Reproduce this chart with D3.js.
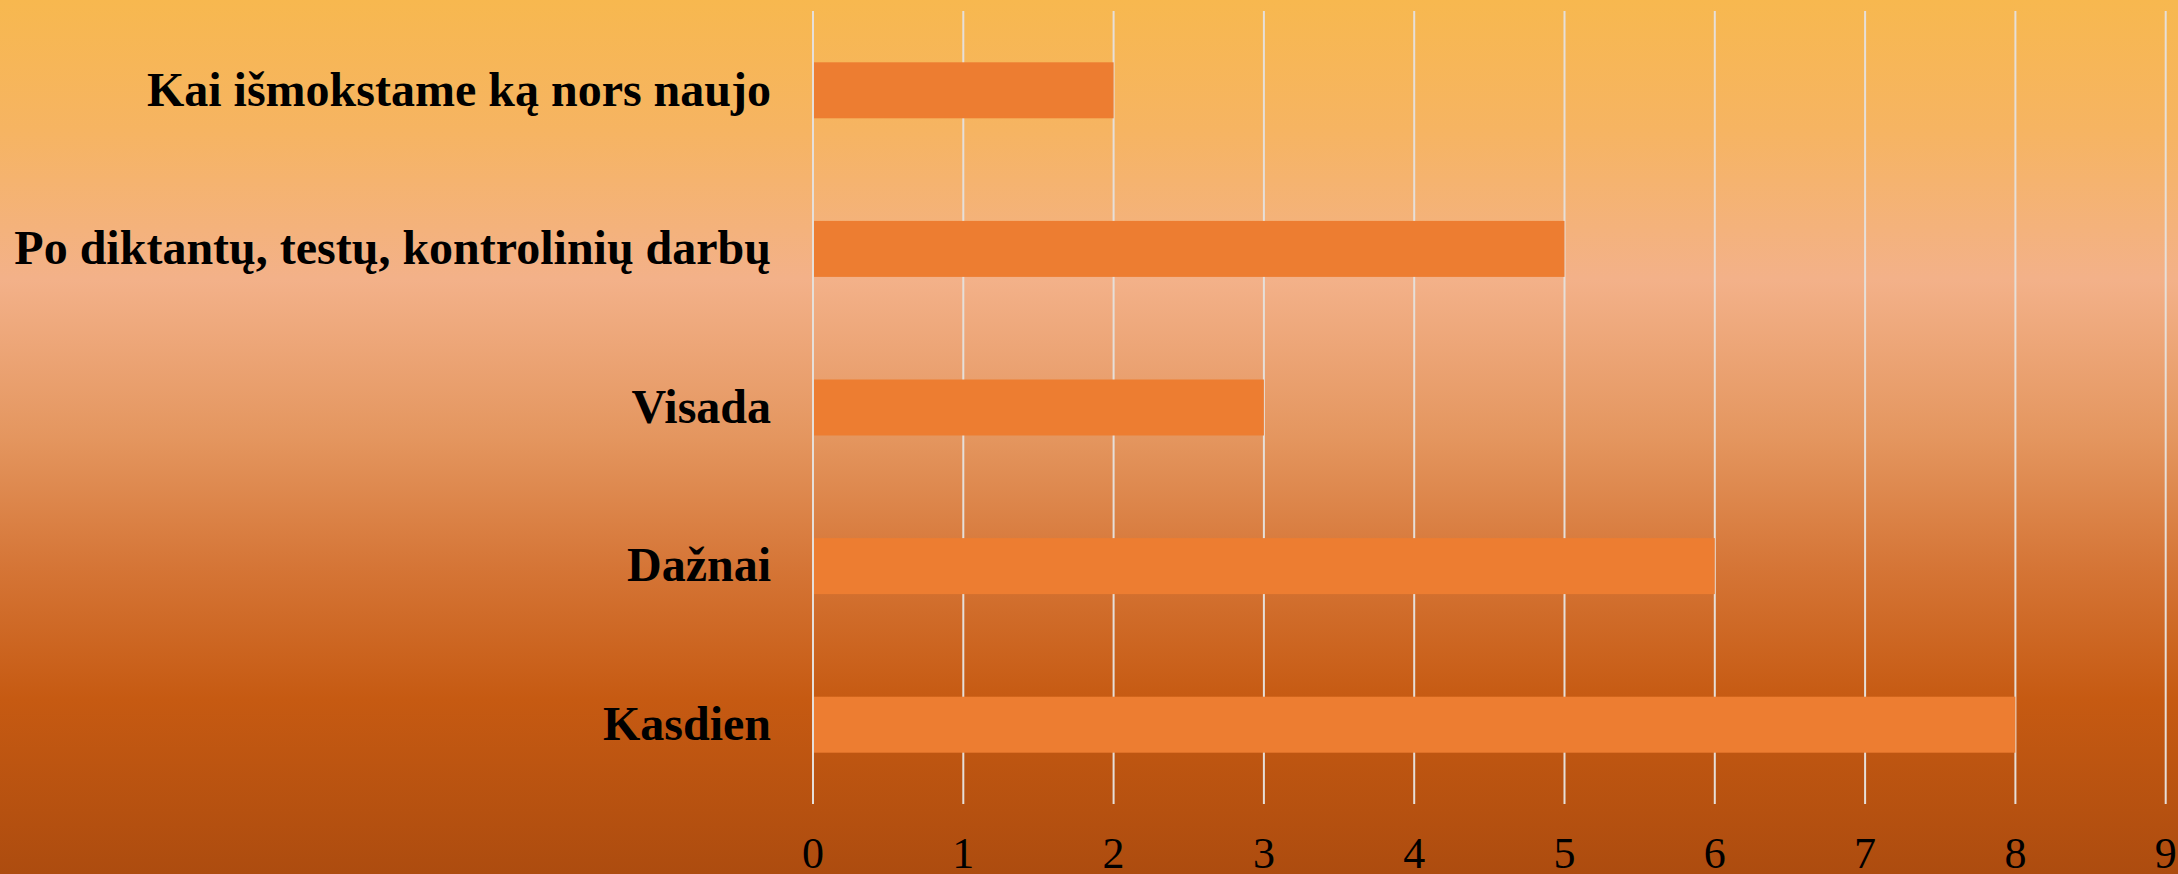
<!DOCTYPE html>
<html>
<head>
<meta charset="utf-8">
<script src="https://cdn.jsdelivr.net/npm/d3@7"></script>
<style>
  html, body { margin: 0; padding: 0; overflow: hidden; }
  svg { display: block; }
</style>
</head>
<body>
<div id="chart"></div>
<script>
// data, top to bottom as drawn
const categories = ["Kai išmokstame ką nors naujo", "Po diktantų, testų, kontrolinių darbų", "Visada", "Dažnai", "Kasdien"];
const values = [2, 5, 3, 6, 8];
const xTicks = [0, 1, 2, 3, 4, 5, 6, 7, 8, 9];

const width = 2178;
const height = 874;
const margin = { top: 11, left: 813, bottom: 70, right: 12 };
const iheight = height - margin.top - margin.bottom;

const svg = d3.select("#chart").append("svg")
    .attr("width", width)
    .attr("height", height);

// background gradient
const grad = svg.append("defs").append("linearGradient")
    .attr("id", "bg")
    .attr("x1", 0).attr("y1", 0).attr("x2", 0).attr("y2", 1);
const stops = [
    [0, "#f7b84f"], [0.15, "#f6b462"], [0.32, "#f3b189"], [0.5, "#e4965f"],
    [0.65, "#d57536"], [0.8, "#c65a12"], [1, "#ad4c0f"]
];
grad.selectAll("stop").data(stops).enter().append("stop")
    .attr("offset", d => d[0])
    .attr("stop-color", d => d[1]);

svg.append("rect").attr("width", width).attr("height", height).attr("fill", "url(#bg)");

const g = svg.append("g").attr("transform", `translate(${margin.left},${margin.top})`);

const x = d3.scaleLinear()
    .domain([0, 9])
    .range([0, 2165.7 - margin.left]);

const y = d3.scaleBand()
    .domain(categories)
    .range([0, iheight])
    .paddingInner(0.647)
    .paddingOuter(0.3235);

// gridlines
g.selectAll("line.grid").data(xTicks).enter().append("line")
    .attr("class", "grid")
    .attr("x1", d => x(d)).attr("x2", d => x(d))
    .attr("y1", 0).attr("y2", 793)
    .attr("stroke", "#e6dfd9")
    .attr("stroke-width", 2);

// bars
g.selectAll("rect.bar").data(values).enter().append("rect")
    .attr("class", "bar")
    .attr("x", x(0) + 1)
    .attr("y", (d, i) => y(categories[i]))
    .attr("width", d => x(d) - x(0) - 1)
    .attr("height", y.bandwidth())
    .attr("fill", "#ed7d31");

// category labels
g.selectAll("text.cat").data(categories).enter().append("text")
    .attr("class", "cat")
    .attr("x", -42)
    .attr("y", d => y(d) + y.bandwidth() / 2)
    .attr("dy", "0.32em")
    .attr("text-anchor", "end")
    .attr("font-family", "'Liberation Serif', 'Times New Roman', serif")
    .attr("font-weight", "bold")
    .attr("font-size", 48)
    .attr("fill", "#000")
    .text(d => d);

// x tick labels
g.selectAll("text.tick").data(xTicks).enter().append("text")
    .attr("class", "tick")
    .attr("x", d => x(d))
    .attr("y", 868 - margin.top)
    .attr("text-anchor", "middle")
    .attr("font-family", "'Liberation Serif', 'Times New Roman', serif")
    .attr("font-size", 44)
    .attr("fill", "#000")
    .text(d => d);
</script>
</body>
</html>
